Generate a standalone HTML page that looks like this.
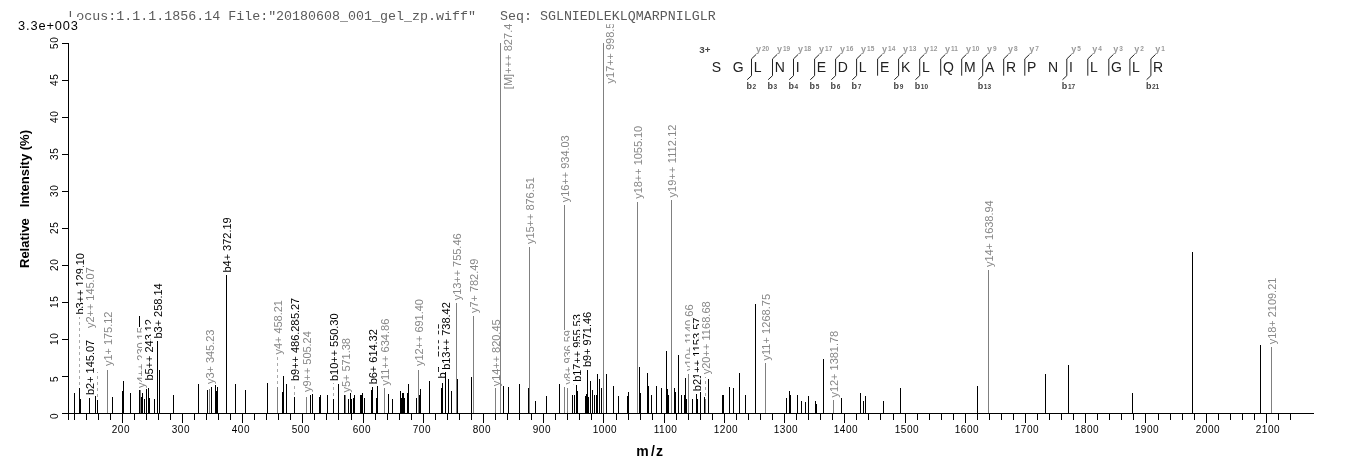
<!DOCTYPE html>
<html lang="en">
<head>
<meta charset="utf-8">
<title>Spectrum SGLNIEDLEKLQMARPNILGLR</title>
<style>
html,body{margin:0;padding:0;background:#fff;}
body{width:1362px;height:473px;overflow:hidden;}
svg{display:block;}
svg rect{shape-rendering:crispEdges;}
</style>
</head>
<body>
<svg width="1362" height="473" viewBox="0 0 1362 473">
<rect x="0" y="0" width="1362" height="473" fill="#fff"/>
<g font-family='"Liberation Sans", Arial, Helvetica, sans-serif' font-size="11px">
<clipPath id="c17"><rect x="600" y="24.3" width="30" height="80"/></clipPath>
<rect x="74" y="392.5" width="1" height="20.5" fill="#000"/>
<rect x="79" y="387.6" width="1" height="25.4" fill="#000"/>
<rect x="79" y="382" width="1" height="3" fill="#aaaaaa"/>
<rect x="79" y="376" width="1" height="3" fill="#aaaaaa"/>
<rect x="79" y="370" width="1" height="3" fill="#aaaaaa"/>
<rect x="79" y="364" width="1" height="3" fill="#aaaaaa"/>
<rect x="79" y="358" width="1" height="3" fill="#aaaaaa"/>
<rect x="79" y="352" width="1" height="3" fill="#aaaaaa"/>
<rect x="79" y="346" width="1" height="3" fill="#aaaaaa"/>
<rect x="79" y="340" width="1" height="3" fill="#aaaaaa"/>
<rect x="79" y="334" width="1" height="3" fill="#aaaaaa"/>
<rect x="79" y="328" width="1" height="3" fill="#aaaaaa"/>
<rect x="79" y="322" width="1" height="3" fill="#aaaaaa"/>
<rect x="79" y="317" width="1" height="2" fill="#aaaaaa"/>
<rect x="73" y="253.0" width="13.5" height="63.5" fill="#fff"/>
<text transform="translate(84 314.5) rotate(-90)" fill="#000" textLength="61.5" lengthAdjust="spacing">b3++ 129.10</text>
<rect x="80" y="399" width="1" height="14" fill="#000"/>
<rect x="89" y="398" width="1" height="15" fill="#000"/>
<rect x="83" y="339.9" width="13.5" height="57.1" fill="#fff"/>
<text transform="translate(94 395) rotate(-90)" fill="#000" textLength="55.15" lengthAdjust="spacing">b2+ 145.07</text>
<rect x="83" y="267.2" width="13.5" height="62.8" fill="#fff"/>
<text transform="translate(94 328) rotate(-90)" fill="#878787" textLength="60.8" lengthAdjust="spacing">y2++ 145.07</text>
<rect x="95" y="396" width="1" height="17" fill="#000"/>
<rect x="97" y="400" width="1" height="13" fill="#000"/>
<rect x="97" y="394" width="1" height="3" fill="#aaaaaa"/>
<rect x="97" y="388" width="1" height="3" fill="#aaaaaa"/>
<rect x="97" y="382" width="1" height="3" fill="#aaaaaa"/>
<rect x="97" y="376" width="1" height="3" fill="#aaaaaa"/>
<rect x="97" y="372" width="1" height="1" fill="#aaaaaa"/>
<rect x="107" y="370" width="1" height="43" fill="#808080"/>
<rect x="101" y="311.6" width="13.5" height="56.5" fill="#fff"/>
<text transform="translate(112 366) rotate(-90)" fill="#878787" textLength="54.45" lengthAdjust="spacing">y1+ 175.12</text>
<rect x="112" y="397" width="1" height="16" fill="#000"/>
<rect x="122" y="391" width="1" height="22" fill="#000"/>
<rect x="123" y="381" width="1" height="32" fill="#000"/>
<rect x="130" y="393" width="1" height="20" fill="#000"/>
<rect x="139" y="316" width="1" height="97" fill="#000"/>
<rect x="140" y="390" width="1" height="23" fill="#808080"/>
<rect x="134" y="327.2" width="13.5" height="62.8" fill="#fff"/>
<text transform="translate(145 388) rotate(-90)" fill="#878787" textLength="60.8" lengthAdjust="spacing">y4++ 230.15</text>
<rect x="141" y="397.4" width="1" height="15.6" fill="#000"/>
<rect x="142" y="393" width="1" height="20" fill="#000"/>
<rect x="144" y="399" width="1" height="14" fill="#000"/>
<rect x="146" y="389" width="1" height="24" fill="#000"/>
<rect x="148" y="387.6" width="1" height="25.4" fill="#000"/>
<rect x="142" y="319.0" width="13.5" height="63.5" fill="#fff"/>
<text transform="translate(153 380.5) rotate(-90)" fill="#000" textLength="61.5" lengthAdjust="spacing">b5++ 243.12</text>
<rect x="149" y="398" width="1" height="15" fill="#000"/>
<rect x="154" y="399" width="1" height="14" fill="#000"/>
<rect x="157" y="341" width="1" height="72" fill="#000"/>
<rect x="151" y="283.4" width="13.5" height="57.1" fill="#fff"/>
<text transform="translate(162 338.5) rotate(-90)" fill="#000" textLength="55.15" lengthAdjust="spacing">b3+ 258.14</text>
<rect x="159" y="370" width="1" height="43" fill="#000"/>
<rect x="173" y="395" width="1" height="18" fill="#000"/>
<rect x="198" y="384" width="1" height="29" fill="#000"/>
<rect x="207" y="390" width="1" height="23" fill="#000"/>
<rect x="209" y="389" width="1" height="24" fill="#808080"/>
<rect x="203" y="329.6" width="13.5" height="56.5" fill="#fff"/>
<text transform="translate(214 384) rotate(-90)" fill="#878787" textLength="54.45" lengthAdjust="spacing">y3+ 345.23</text>
<rect x="211" y="387" width="1" height="26" fill="#000"/>
<rect x="215" y="385" width="1" height="28" fill="#000"/>
<rect x="216" y="391" width="1" height="22" fill="#000"/>
<rect x="217" y="387" width="1" height="26" fill="#000"/>
<rect x="226" y="275" width="1" height="138" fill="#000"/>
<rect x="220" y="217.3" width="13.5" height="57.1" fill="#fff"/>
<text transform="translate(231 272.5) rotate(-90)" fill="#000" textLength="55.15" lengthAdjust="spacing">b4+ 372.19</text>
<rect x="235" y="384" width="1" height="29" fill="#000"/>
<rect x="245" y="390" width="1" height="23" fill="#000"/>
<rect x="267" y="383" width="1" height="30" fill="#000"/>
<rect x="277" y="387" width="1" height="26" fill="#808080"/>
<rect x="277" y="381" width="1" height="3" fill="#aaaaaa"/>
<rect x="277" y="375" width="1" height="3" fill="#aaaaaa"/>
<rect x="277" y="369" width="1" height="3" fill="#aaaaaa"/>
<rect x="277" y="363" width="1" height="3" fill="#aaaaaa"/>
<rect x="277" y="357" width="1" height="3" fill="#aaaaaa"/>
<rect x="271" y="300.1" width="13.5" height="56.5" fill="#fff"/>
<text transform="translate(282 354.5) rotate(-90)" fill="#878787" textLength="54.45" lengthAdjust="spacing">y4+ 458.21</text>
<rect x="282" y="392" width="1" height="21" fill="#000"/>
<rect x="283" y="376" width="1" height="37" fill="#000"/>
<rect x="286" y="384" width="1" height="29" fill="#000"/>
<rect x="294" y="397.4" width="1" height="15.6" fill="#000"/>
<rect x="288" y="297.8" width="13.5" height="57.1" fill="#fff"/>
<text transform="translate(299 352.9) rotate(-90)" fill="#000" textLength="55.15" lengthAdjust="spacing">b5+ 485.27</text>
<rect x="294" y="392" width="1" height="3" fill="#aaaaaa"/>
<rect x="294" y="386" width="1" height="3" fill="#aaaaaa"/>
<rect x="288" y="319.5" width="13.5" height="63.5" fill="#fff"/>
<text transform="translate(299 381) rotate(-90)" fill="#000" textLength="61.5" lengthAdjust="spacing">b9++ 486.28</text>
<rect x="306" y="397.4" width="1" height="15.6" fill="#808080"/>
<rect x="300" y="331.2" width="13.5" height="62.8" fill="#fff"/>
<text transform="translate(311 392) rotate(-90)" fill="#878787" textLength="60.8" lengthAdjust="spacing">y9++ 505.24</text>
<rect x="310" y="395" width="1" height="18" fill="#000"/>
<rect x="312" y="394" width="1" height="19" fill="#000"/>
<rect x="319" y="397" width="1" height="16" fill="#000"/>
<rect x="320" y="395" width="1" height="18" fill="#000"/>
<rect x="327" y="395" width="1" height="18" fill="#000"/>
<rect x="333" y="399" width="1" height="14" fill="#000"/>
<rect x="333" y="393" width="1" height="3" fill="#aaaaaa"/>
<rect x="333" y="387" width="1" height="3" fill="#aaaaaa"/>
<rect x="333" y="383" width="1" height="1" fill="#aaaaaa"/>
<rect x="327" y="313.4" width="13.5" height="69.6" fill="#fff"/>
<text transform="translate(338 381) rotate(-90)" fill="#000" textLength="67.6" lengthAdjust="spacing">b10++ 550.30</text>
<rect x="338" y="384" width="1" height="29" fill="#000"/>
<rect x="344" y="393" width="1" height="20" fill="#000"/>
<rect x="345" y="395" width="1" height="18" fill="#808080"/>
<rect x="339" y="338.1" width="13.5" height="56.5" fill="#fff"/>
<text transform="translate(350 392.5) rotate(-90)" fill="#878787" textLength="54.45" lengthAdjust="spacing">y5+ 571.38</text>
<rect x="348" y="399" width="1" height="14" fill="#000"/>
<rect x="350" y="393" width="1" height="20" fill="#000"/>
<rect x="351" y="399" width="1" height="14" fill="#000"/>
<rect x="353" y="398" width="1" height="15" fill="#000"/>
<rect x="354" y="395" width="1" height="18" fill="#000"/>
<rect x="360" y="395" width="1" height="18" fill="#000"/>
<rect x="361" y="395" width="1" height="18" fill="#000"/>
<rect x="362" y="393" width="1" height="20" fill="#000"/>
<rect x="364" y="398" width="1" height="15" fill="#000"/>
<rect x="371" y="390" width="1" height="23" fill="#000"/>
<rect x="372" y="387" width="1" height="26" fill="#000"/>
<rect x="366" y="329.2" width="13.5" height="57.1" fill="#fff"/>
<text transform="translate(377 384.3) rotate(-90)" fill="#000" textLength="55.15" lengthAdjust="spacing">b6+ 614.32</text>
<rect x="376" y="398" width="1" height="15" fill="#000"/>
<rect x="377" y="386" width="1" height="27" fill="#000"/>
<rect x="384" y="388" width="1" height="25" fill="#808080"/>
<rect x="378" y="318.6" width="13.5" height="68.9" fill="#fff"/>
<text transform="translate(389 385.5) rotate(-90)" fill="#878787" textLength="66.9" lengthAdjust="spacing">y11++ 634.86</text>
<rect x="388" y="394" width="1" height="19" fill="#000"/>
<rect x="392" y="399" width="1" height="14" fill="#000"/>
<rect x="400" y="391" width="1" height="22" fill="#000"/>
<rect x="401" y="398" width="1" height="15" fill="#000"/>
<rect x="402" y="393" width="1" height="20" fill="#000"/>
<rect x="403" y="393" width="1" height="20" fill="#000"/>
<rect x="404" y="398" width="1" height="15" fill="#000"/>
<rect x="407" y="393" width="1" height="20" fill="#000"/>
<rect x="408" y="384" width="1" height="29" fill="#000"/>
<rect x="416" y="398" width="1" height="15" fill="#000"/>
<rect x="418" y="369.5" width="1" height="43.5" fill="#808080"/>
<rect x="412" y="299.1" width="13.5" height="68.9" fill="#fff"/>
<text transform="translate(423 366) rotate(-90)" fill="#878787" textLength="66.9" lengthAdjust="spacing">y12++ 691.40</text>
<rect x="419" y="395" width="1" height="18" fill="#000"/>
<rect x="420" y="389" width="1" height="24" fill="#000"/>
<rect x="429" y="381" width="1" height="32" fill="#000"/>
<rect x="441" y="388" width="1" height="25" fill="#000"/>
<rect x="435" y="323.4" width="13.5" height="57.1" fill="#fff"/>
<text transform="translate(446 378.5) rotate(-90)" fill="#000" textLength="55.15" lengthAdjust="spacing">b7+ 729.35</text>
<rect x="442" y="383" width="1" height="30" fill="#000"/>
<rect x="445" y="370.6" width="1" height="42.4" fill="#000"/>
<rect x="439" y="302.2" width="13.5" height="69.6" fill="#fff"/>
<text transform="translate(450 369.8) rotate(-90)" fill="#000" textLength="67.6" lengthAdjust="spacing">b13++ 738.42</text>
<rect x="448" y="379" width="1" height="34" fill="#000"/>
<rect x="451" y="391" width="1" height="22" fill="#000"/>
<rect x="456" y="303" width="1" height="110" fill="#808080"/>
<rect x="450" y="233.4" width="13.5" height="68.9" fill="#fff"/>
<text transform="translate(461 300.3) rotate(-90)" fill="#878787" textLength="66.9" lengthAdjust="spacing">y13++ 755.46</text>
<rect x="457" y="379" width="1" height="34" fill="#000"/>
<rect x="471" y="377" width="1" height="36" fill="#000"/>
<rect x="473" y="316" width="1" height="97" fill="#808080"/>
<rect x="467" y="258.6" width="13.5" height="56.5" fill="#fff"/>
<text transform="translate(478 313) rotate(-90)" fill="#878787" textLength="54.45" lengthAdjust="spacing">y7+ 782.49</text>
<rect x="495" y="388" width="1" height="25" fill="#808080"/>
<rect x="489" y="319.4" width="13.5" height="68.9" fill="#fff"/>
<text transform="translate(500 386.3) rotate(-90)" fill="#878787" textLength="66.9" lengthAdjust="spacing">y14++ 820.45</text>
<rect x="500" y="43" width="1" height="370" fill="#808080"/>
<text transform="translate(511.8 89.2) rotate(-90)" fill="#878787" textLength="65.55" lengthAdjust="spacing">[M]+++ 827.4</text>
<rect x="503" y="386" width="1" height="27" fill="#000"/>
<rect x="508" y="387" width="1" height="26" fill="#000"/>
<rect x="519" y="384" width="1" height="29" fill="#000"/>
<rect x="528" y="388" width="1" height="25" fill="#000"/>
<rect x="529" y="247" width="1" height="166" fill="#808080"/>
<rect x="523" y="177.1" width="13.5" height="68.9" fill="#fff"/>
<text transform="translate(534 244) rotate(-90)" fill="#878787" textLength="66.9" lengthAdjust="spacing">y15++ 876.51</text>
<rect x="535" y="401" width="1" height="12" fill="#000"/>
<rect x="546" y="396" width="1" height="17" fill="#000"/>
<rect x="559" y="384" width="1" height="29" fill="#000"/>
<rect x="564" y="205" width="1" height="208" fill="#808080"/>
<rect x="558" y="135.3" width="13.5" height="68.9" fill="#fff"/>
<text transform="translate(569 202.2) rotate(-90)" fill="#878787" textLength="66.9" lengthAdjust="spacing">y16++ 934.03</text>
<rect x="567" y="388" width="1" height="25" fill="#808080"/>
<rect x="561" y="330.1" width="13.5" height="56.5" fill="#fff"/>
<text transform="translate(572 384.5) rotate(-90)" fill="#878787" textLength="54.45" lengthAdjust="spacing">y8+ 936.59</text>
<rect x="572" y="395" width="1" height="18" fill="#000"/>
<rect x="574" y="395" width="1" height="18" fill="#000"/>
<rect x="576" y="385" width="1" height="28" fill="#000"/>
<rect x="570" y="314.2" width="13.5" height="69.6" fill="#fff"/>
<text transform="translate(581 381.8) rotate(-90)" fill="#000" textLength="67.6" lengthAdjust="spacing">b17++ 955.53</text>
<rect x="577" y="391" width="1" height="22" fill="#000"/>
<rect x="585" y="396" width="1" height="17" fill="#000"/>
<rect x="586" y="394" width="1" height="19" fill="#000"/>
<rect x="587" y="370" width="1" height="43" fill="#000"/>
<rect x="580.4" y="311.9" width="13.5" height="57.1" fill="#fff"/>
<text transform="translate(591.4 367) rotate(-90)" fill="#000" textLength="55.15" lengthAdjust="spacing">b9+ 971.46</text>
<rect x="588" y="397" width="1" height="16" fill="#000"/>
<rect x="590" y="381" width="1" height="32" fill="#000"/>
<rect x="592" y="390" width="1" height="23" fill="#000"/>
<rect x="594" y="395" width="1" height="18" fill="#000"/>
<rect x="596" y="395" width="1" height="18" fill="#000"/>
<rect x="597" y="374" width="1" height="39" fill="#000"/>
<rect x="599" y="379" width="1" height="34" fill="#000"/>
<rect x="601" y="388" width="1" height="25" fill="#000"/>
<rect x="603" y="43" width="1" height="370" fill="#808080"/>
<g clip-path="url(#c17)">
<text transform="translate(614.1 83.4) rotate(-90)" fill="#878787" textLength="60.8" lengthAdjust="spacing">y17++ 998.5</text>
</g>
<rect x="606" y="374" width="1" height="39" fill="#000"/>
<rect x="613" y="386" width="1" height="27" fill="#000"/>
<rect x="618" y="396" width="1" height="17" fill="#000"/>
<rect x="627" y="396" width="1" height="17" fill="#000"/>
<rect x="628" y="392" width="1" height="21" fill="#000"/>
<rect x="637" y="202" width="1" height="211" fill="#808080"/>
<rect x="631" y="125.8" width="13.5" height="75.0" fill="#fff"/>
<text transform="translate(642 198.8) rotate(-90)" fill="#878787" textLength="73.0" lengthAdjust="spacing">y18++ 1055.10</text>
<rect x="639" y="367" width="1" height="46" fill="#000"/>
<rect x="640" y="393" width="1" height="20" fill="#000"/>
<rect x="647" y="373" width="1" height="40" fill="#000"/>
<rect x="648" y="386" width="1" height="27" fill="#000"/>
<rect x="651" y="395" width="1" height="18" fill="#000"/>
<rect x="656" y="386" width="1" height="27" fill="#000"/>
<rect x="661" y="388" width="1" height="25" fill="#000"/>
<rect x="666" y="351" width="1" height="62" fill="#000"/>
<rect x="667" y="389" width="1" height="24" fill="#000"/>
<rect x="668" y="395" width="1" height="18" fill="#000"/>
<rect x="671" y="200" width="1" height="213" fill="#808080"/>
<rect x="665" y="124.5" width="13.5" height="75.0" fill="#fff"/>
<text transform="translate(676 197.5) rotate(-90)" fill="#878787" textLength="73.0" lengthAdjust="spacing">y19++ 1112.12</text>
<rect x="674" y="388" width="1" height="25" fill="#000"/>
<rect x="675" y="392" width="1" height="21" fill="#000"/>
<rect x="678" y="355" width="1" height="58" fill="#000"/>
<rect x="681" y="395" width="1" height="18" fill="#000"/>
<rect x="684" y="395" width="1" height="18" fill="#000"/>
<rect x="685" y="378" width="1" height="35" fill="#000"/>
<rect x="686" y="399" width="1" height="14" fill="#000"/>
<rect x="688" y="374" width="1" height="39" fill="#808080"/>
<rect x="682" y="304.4" width="13.5" height="68.7" fill="#fff"/>
<text transform="translate(693 371) rotate(-90)" fill="#878787" textLength="66.65" lengthAdjust="spacing">y10+ 1140.66</text>
<rect x="692" y="399" width="1" height="14" fill="#000"/>
<rect x="696" y="394" width="1" height="19" fill="#000"/>
<rect x="690" y="317.5" width="13.5" height="75.7" fill="#fff"/>
<text transform="translate(701 391.2) rotate(-90)" fill="#000" textLength="73.7" lengthAdjust="spacing">b21++ 1153.57</text>
<rect x="697" y="399" width="1" height="14" fill="#000"/>
<rect x="700" y="392" width="1" height="21" fill="#000"/>
<rect x="704" y="397" width="1" height="16" fill="#000"/>
<rect x="705" y="399" width="1" height="14" fill="#808080"/>
<rect x="705" y="393" width="1" height="3" fill="#aaaaaa"/>
<rect x="705" y="387" width="1" height="3" fill="#aaaaaa"/>
<rect x="705" y="381" width="1" height="3" fill="#aaaaaa"/>
<rect x="705" y="377" width="1" height="1" fill="#aaaaaa"/>
<rect x="699" y="301.3" width="13.5" height="75.0" fill="#fff"/>
<text transform="translate(710 374.3) rotate(-90)" fill="#878787" textLength="73.0" lengthAdjust="spacing">y20++ 1168.68</text>
<rect x="708" y="379" width="1" height="34" fill="#000"/>
<rect x="722" y="395" width="1" height="18" fill="#000"/>
<rect x="723" y="395" width="1" height="18" fill="#000"/>
<rect x="729" y="387" width="1" height="26" fill="#000"/>
<rect x="733" y="388" width="1" height="25" fill="#000"/>
<rect x="739" y="373" width="1" height="40" fill="#000"/>
<rect x="745" y="395" width="1" height="18" fill="#000"/>
<rect x="755" y="304" width="1" height="109" fill="#000"/>
<rect x="765" y="363" width="1" height="50" fill="#808080"/>
<rect x="759" y="293.9" width="13.5" height="68.7" fill="#fff"/>
<text transform="translate(770 360.5) rotate(-90)" fill="#878787" textLength="66.65" lengthAdjust="spacing">y11+ 1268.75</text>
<rect x="786" y="398" width="1" height="15" fill="#000"/>
<rect x="789" y="391" width="1" height="22" fill="#000"/>
<rect x="790" y="395" width="1" height="18" fill="#000"/>
<rect x="797" y="395" width="1" height="18" fill="#000"/>
<rect x="801" y="401" width="1" height="12" fill="#000"/>
<rect x="805" y="402" width="1" height="11" fill="#000"/>
<rect x="808" y="396" width="1" height="17" fill="#000"/>
<rect x="815" y="401" width="1" height="12" fill="#000"/>
<rect x="816" y="404" width="1" height="9" fill="#000"/>
<rect x="823" y="359" width="1" height="54" fill="#000"/>
<rect x="833" y="400" width="1" height="13" fill="#808080"/>
<rect x="827" y="330.9" width="13.5" height="68.7" fill="#fff"/>
<text transform="translate(838 397.5) rotate(-90)" fill="#878787" textLength="66.65" lengthAdjust="spacing">y12+ 1381.78</text>
<rect x="841" y="398" width="1" height="15" fill="#000"/>
<rect x="860" y="393" width="1" height="20" fill="#000"/>
<rect x="863" y="401" width="1" height="12" fill="#000"/>
<rect x="865" y="396" width="1" height="17" fill="#000"/>
<rect x="883" y="401" width="1" height="12" fill="#000"/>
<rect x="900" y="388" width="1" height="25" fill="#000"/>
<rect x="977" y="386" width="1" height="27" fill="#000"/>
<rect x="988" y="270" width="1" height="143" fill="#808080"/>
<rect x="982" y="200.3" width="13.5" height="68.7" fill="#fff"/>
<text transform="translate(993 267) rotate(-90)" fill="#878787" textLength="66.65" lengthAdjust="spacing">y14+ 1638.94</text>
<rect x="1045" y="374" width="1" height="39" fill="#000"/>
<rect x="1068" y="365" width="1" height="48" fill="#000"/>
<rect x="1132" y="393" width="1" height="20" fill="#000"/>
<rect x="1192" y="252" width="1" height="161" fill="#000"/>
<rect x="1260" y="345" width="1" height="68" fill="#000"/>
<rect x="1271" y="347" width="1" height="66" fill="#808080"/>
<rect x="1265" y="277.6" width="13.5" height="68.7" fill="#fff"/>
<text transform="translate(1276 344.3) rotate(-90)" fill="#878787" textLength="66.65" lengthAdjust="spacing">y18+ 2109.21</text>
</g>
<rect x="68" y="43" width="1" height="377" fill="#000"/>
<rect x="62" y="413" width="7" height="1" fill="#000"/>
<rect x="62" y="376" width="7" height="1" fill="#000"/>
<rect x="62" y="339" width="7" height="1" fill="#000"/>
<rect x="62" y="302" width="7" height="1" fill="#000"/>
<rect x="62" y="265" width="7" height="1" fill="#000"/>
<rect x="62" y="228" width="7" height="1" fill="#000"/>
<rect x="62" y="191" width="7" height="1" fill="#000"/>
<rect x="62" y="154" width="7" height="1" fill="#000"/>
<rect x="62" y="117" width="7" height="1" fill="#000"/>
<rect x="62" y="80" width="7" height="1" fill="#000"/>
<rect x="62" y="43" width="7" height="1" fill="#000"/>
<rect x="62" y="413" width="1252" height="1" fill="#000"/>
<rect x="74" y="413" width="1" height="7" fill="#000"/>
<rect x="86" y="413" width="1" height="7" fill="#000"/>
<rect x="98" y="413" width="1" height="7" fill="#000"/>
<rect x="110" y="413" width="1" height="7" fill="#000"/>
<rect x="122" y="413" width="1" height="10" fill="#000"/>
<rect x="134" y="413" width="1" height="7" fill="#000"/>
<rect x="146" y="413" width="1" height="7" fill="#000"/>
<rect x="158" y="413" width="1" height="7" fill="#000"/>
<rect x="170" y="413" width="1" height="7" fill="#000"/>
<rect x="182" y="413" width="1" height="10" fill="#000"/>
<rect x="194" y="413" width="1" height="7" fill="#000"/>
<rect x="206" y="413" width="1" height="7" fill="#000"/>
<rect x="218" y="413" width="1" height="7" fill="#000"/>
<rect x="230" y="413" width="1" height="7" fill="#000"/>
<rect x="242" y="413" width="1" height="10" fill="#000"/>
<rect x="254" y="413" width="1" height="7" fill="#000"/>
<rect x="266" y="413" width="1" height="7" fill="#000"/>
<rect x="278" y="413" width="1" height="7" fill="#000"/>
<rect x="290" y="413" width="1" height="7" fill="#000"/>
<rect x="302" y="413" width="1" height="10" fill="#000"/>
<rect x="314" y="413" width="1" height="7" fill="#000"/>
<rect x="326" y="413" width="1" height="7" fill="#000"/>
<rect x="338" y="413" width="1" height="7" fill="#000"/>
<rect x="351" y="413" width="1" height="7" fill="#000"/>
<rect x="363" y="413" width="1" height="10" fill="#000"/>
<rect x="375" y="413" width="1" height="7" fill="#000"/>
<rect x="387" y="413" width="1" height="7" fill="#000"/>
<rect x="399" y="413" width="1" height="7" fill="#000"/>
<rect x="411" y="413" width="1" height="7" fill="#000"/>
<rect x="423" y="413" width="1" height="10" fill="#000"/>
<rect x="435" y="413" width="1" height="7" fill="#000"/>
<rect x="447" y="413" width="1" height="7" fill="#000"/>
<rect x="459" y="413" width="1" height="7" fill="#000"/>
<rect x="471" y="413" width="1" height="7" fill="#000"/>
<rect x="483" y="413" width="1" height="10" fill="#000"/>
<rect x="495" y="413" width="1" height="7" fill="#000"/>
<rect x="507" y="413" width="1" height="7" fill="#000"/>
<rect x="519" y="413" width="1" height="7" fill="#000"/>
<rect x="531" y="413" width="1" height="7" fill="#000"/>
<rect x="543" y="413" width="1" height="10" fill="#000"/>
<rect x="555" y="413" width="1" height="7" fill="#000"/>
<rect x="567" y="413" width="1" height="7" fill="#000"/>
<rect x="579" y="413" width="1" height="7" fill="#000"/>
<rect x="591" y="413" width="1" height="7" fill="#000"/>
<rect x="603" y="413" width="1" height="10" fill="#000"/>
<rect x="616" y="413" width="1" height="7" fill="#000"/>
<rect x="628" y="413" width="1" height="7" fill="#000"/>
<rect x="640" y="413" width="1" height="7" fill="#000"/>
<rect x="652" y="413" width="1" height="7" fill="#000"/>
<rect x="664" y="413" width="1" height="10" fill="#000"/>
<rect x="676" y="413" width="1" height="7" fill="#000"/>
<rect x="688" y="413" width="1" height="7" fill="#000"/>
<rect x="700" y="413" width="1" height="7" fill="#000"/>
<rect x="712" y="413" width="1" height="7" fill="#000"/>
<rect x="724" y="413" width="1" height="10" fill="#000"/>
<rect x="736" y="413" width="1" height="7" fill="#000"/>
<rect x="748" y="413" width="1" height="7" fill="#000"/>
<rect x="760" y="413" width="1" height="7" fill="#000"/>
<rect x="772" y="413" width="1" height="7" fill="#000"/>
<rect x="784" y="413" width="1" height="10" fill="#000"/>
<rect x="796" y="413" width="1" height="7" fill="#000"/>
<rect x="808" y="413" width="1" height="7" fill="#000"/>
<rect x="820" y="413" width="1" height="7" fill="#000"/>
<rect x="832" y="413" width="1" height="7" fill="#000"/>
<rect x="844" y="413" width="1" height="10" fill="#000"/>
<rect x="856" y="413" width="1" height="7" fill="#000"/>
<rect x="868" y="413" width="1" height="7" fill="#000"/>
<rect x="880" y="413" width="1" height="7" fill="#000"/>
<rect x="893" y="413" width="1" height="7" fill="#000"/>
<rect x="905" y="413" width="1" height="10" fill="#000"/>
<rect x="917" y="413" width="1" height="7" fill="#000"/>
<rect x="929" y="413" width="1" height="7" fill="#000"/>
<rect x="941" y="413" width="1" height="7" fill="#000"/>
<rect x="953" y="413" width="1" height="7" fill="#000"/>
<rect x="965" y="413" width="1" height="10" fill="#000"/>
<rect x="977" y="413" width="1" height="7" fill="#000"/>
<rect x="989" y="413" width="1" height="7" fill="#000"/>
<rect x="1001" y="413" width="1" height="7" fill="#000"/>
<rect x="1013" y="413" width="1" height="7" fill="#000"/>
<rect x="1025" y="413" width="1" height="10" fill="#000"/>
<rect x="1037" y="413" width="1" height="7" fill="#000"/>
<rect x="1049" y="413" width="1" height="7" fill="#000"/>
<rect x="1061" y="413" width="1" height="7" fill="#000"/>
<rect x="1073" y="413" width="1" height="7" fill="#000"/>
<rect x="1085" y="413" width="1" height="10" fill="#000"/>
<rect x="1097" y="413" width="1" height="7" fill="#000"/>
<rect x="1109" y="413" width="1" height="7" fill="#000"/>
<rect x="1121" y="413" width="1" height="7" fill="#000"/>
<rect x="1133" y="413" width="1" height="7" fill="#000"/>
<rect x="1145" y="413" width="1" height="10" fill="#000"/>
<rect x="1158" y="413" width="1" height="7" fill="#000"/>
<rect x="1170" y="413" width="1" height="7" fill="#000"/>
<rect x="1182" y="413" width="1" height="7" fill="#000"/>
<rect x="1194" y="413" width="1" height="7" fill="#000"/>
<rect x="1206" y="413" width="1" height="10" fill="#000"/>
<rect x="1218" y="413" width="1" height="7" fill="#000"/>
<rect x="1230" y="413" width="1" height="7" fill="#000"/>
<rect x="1242" y="413" width="1" height="7" fill="#000"/>
<rect x="1254" y="413" width="1" height="7" fill="#000"/>
<rect x="1266" y="413" width="1" height="10" fill="#000"/>
<rect x="1278" y="413" width="1" height="7" fill="#000"/>
<rect x="1290" y="413" width="1" height="7" fill="#000"/>
<g font-family='"Liberation Sans", Arial, Helvetica, sans-serif' font-size="10px" fill="#000">
<text x="111.7" y="432.9" letter-spacing="0.55">200</text>
<text x="171.7" y="432.9" letter-spacing="0.55">300</text>
<text x="231.7" y="432.9" letter-spacing="0.55">400</text>
<text x="291.7" y="432.9" letter-spacing="0.55">500</text>
<text x="352.7" y="432.9" letter-spacing="0.55">600</text>
<text x="412.7" y="432.9" letter-spacing="0.55">700</text>
<text x="472.7" y="432.9" letter-spacing="0.55">800</text>
<text x="532.7" y="432.9" letter-spacing="0.55">900</text>
<text x="592.7" y="432.9" letter-spacing="0.55">1000</text>
<text x="653.7" y="432.9" letter-spacing="0.55">1100</text>
<text x="713.7" y="432.9" letter-spacing="0.55">1200</text>
<text x="773.7" y="432.9" letter-spacing="0.55">1300</text>
<text x="833.7" y="432.9" letter-spacing="0.55">1400</text>
<text x="894.7" y="432.9" letter-spacing="0.55">1500</text>
<text x="954.7" y="432.9" letter-spacing="0.55">1600</text>
<text x="1014.7" y="432.9" letter-spacing="0.55">1700</text>
<text x="1074.7" y="432.9" letter-spacing="0.55">1800</text>
<text x="1134.7" y="432.9" letter-spacing="0.55">1900</text>
<text x="1195.7" y="432.9" letter-spacing="0.55">2000</text>
<text x="1255.7" y="432.9" letter-spacing="0.55">2100</text>
<text transform="translate(57.5 418.9) rotate(-90)" letter-spacing="0.5">0</text>
<text transform="translate(57.5 381.9) rotate(-90)" letter-spacing="0.5">5</text>
<text transform="translate(57.5 344.9) rotate(-90)" letter-spacing="0.5">10</text>
<text transform="translate(57.5 307.9) rotate(-90)" letter-spacing="0.5">15</text>
<text transform="translate(57.5 270.9) rotate(-90)" letter-spacing="0.5">20</text>
<text transform="translate(57.5 233.9) rotate(-90)" letter-spacing="0.5">25</text>
<text transform="translate(57.5 196.9) rotate(-90)" letter-spacing="0.5">30</text>
<text transform="translate(57.5 159.9) rotate(-90)" letter-spacing="0.5">35</text>
<text transform="translate(57.5 122.9) rotate(-90)" letter-spacing="0.5">40</text>
<text transform="translate(57.5 85.9) rotate(-90)" letter-spacing="0.5">45</text>
<text transform="translate(57.5 48.9) rotate(-90)" letter-spacing="0.5">50</text>
</g>
<g font-family='"Liberation Sans", Arial, Helvetica, sans-serif' font-weight="bold" font-size="14px" fill="#000">
<text y="455.6" text-anchor="middle"><tspan x="642.5">m</tspan><tspan x="652.9">/</tspan><tspan x="659.5">z</tspan></text>
<text transform="translate(29 268) rotate(-90) scale(0.963 1)" font-size="13.5px" xml:space="preserve">Relative   Intensity (%)</text>
</g>
<rect x="69" y="9" width="649" height="14.3" fill="#fff"/>
<text transform="translate(68.3 19.8) scale(1.111 1)" font-family='"Liberation Mono", "Courier New", Courier, monospace' font-size="12px" fill="#5a5a5a" xml:space="preserve">Locus:1.1.1.1856.14 File:&quot;20180608_001_gel_zp.wiff&quot;   Seq: SGLNIEDLEKLQMARPNILGLR</text>
<rect x="17" y="17.3" width="61.5" height="14.5" fill="#fff"/>
<text x="18.1" y="30.2" font-family='"Liberation Sans", Arial, Helvetica, sans-serif' font-size="12.8px" letter-spacing="0.88" fill="#000">3.3e+003</text>
<g font-family='"Liberation Sans", Arial, Helvetica, sans-serif'>
<text x="699.3" y="52.7" font-size="9.8px" font-weight="bold" fill="#484848">3+</text>
<text x="711.7" y="72" font-size="14px" fill="#222">S</text>
<text x="732.7" y="72" font-size="14px" fill="#222">G</text>
<text x="753.7" y="72" font-size="14px" fill="#222">L</text>
<text x="774.8" y="72" font-size="14px" fill="#222">N</text>
<text x="795.8" y="72" font-size="14px" fill="#222">I</text>
<text x="816.8" y="72" font-size="14px" fill="#222">E</text>
<text x="837.8" y="72" font-size="14px" fill="#222">D</text>
<text x="858.8" y="72" font-size="14px" fill="#222">L</text>
<text x="879.9" y="72" font-size="14px" fill="#222">E</text>
<text x="900.9" y="72" font-size="14px" fill="#222">K</text>
<text x="921.9" y="72" font-size="14px" fill="#222">L</text>
<text x="942.9" y="72" font-size="14px" fill="#222">Q</text>
<text x="963.9" y="72" font-size="14px" fill="#222">M</text>
<text x="985.0" y="72" font-size="14px" fill="#222">A</text>
<text x="1006.0" y="72" font-size="14px" fill="#222">R</text>
<text x="1027.0" y="72" font-size="14px" fill="#222">P</text>
<text x="1048.0" y="72" font-size="14px" fill="#222">N</text>
<text x="1069.0" y="72" font-size="14px" fill="#222">I</text>
<text x="1090.1" y="72" font-size="14px" fill="#222">L</text>
<text x="1111.1" y="72" font-size="14px" fill="#222">G</text>
<text x="1132.1" y="72" font-size="14px" fill="#222">L</text>
<text x="1153.1" y="72" font-size="14px" fill="#222">R</text>
<path d="M747.2 79.7L751.5 75.7V58.9L756.2 54.4" fill="none" stroke="#222" stroke-width="1"/>
<text x="755.9" y="52.2" font-weight="bold" fill="#999"><tspan font-size="9px">y</tspan><tspan font-size="6.5px" dx="1" dy="-0.9">20</tspan></text>
<text x="746.5" y="88.6" font-weight="bold" fill="#444"><tspan font-size="9px">b</tspan><tspan font-size="6.5px" dx="0.6">2</tspan></text>
<path d="M768.2 79.7L772.5 75.7V58.9L777.2 54.4" fill="none" stroke="#222" stroke-width="1"/>
<text x="776.9" y="52.2" font-weight="bold" fill="#999"><tspan font-size="9px">y</tspan><tspan font-size="6.5px" dx="1" dy="-0.9">19</tspan></text>
<text x="767.5" y="88.6" font-weight="bold" fill="#444"><tspan font-size="9px">b</tspan><tspan font-size="6.5px" dx="0.6">3</tspan></text>
<path d="M789.2 79.7L793.5 75.7V58.9L798.2 54.4" fill="none" stroke="#222" stroke-width="1"/>
<text x="797.9" y="52.2" font-weight="bold" fill="#999"><tspan font-size="9px">y</tspan><tspan font-size="6.5px" dx="1" dy="-0.9">18</tspan></text>
<text x="788.5" y="88.6" font-weight="bold" fill="#444"><tspan font-size="9px">b</tspan><tspan font-size="6.5px" dx="0.6">4</tspan></text>
<path d="M810.3 79.7L814.6 75.7V58.9L819.3 54.4" fill="none" stroke="#222" stroke-width="1"/>
<text x="819.0" y="52.2" font-weight="bold" fill="#999"><tspan font-size="9px">y</tspan><tspan font-size="6.5px" dx="1" dy="-0.9">17</tspan></text>
<text x="809.6" y="88.6" font-weight="bold" fill="#444"><tspan font-size="9px">b</tspan><tspan font-size="6.5px" dx="0.6">5</tspan></text>
<path d="M831.3 79.7L835.6 75.7V58.9L840.3 54.4" fill="none" stroke="#222" stroke-width="1"/>
<text x="840.0" y="52.2" font-weight="bold" fill="#999"><tspan font-size="9px">y</tspan><tspan font-size="6.5px" dx="1" dy="-0.9">16</tspan></text>
<text x="830.6" y="88.6" font-weight="bold" fill="#444"><tspan font-size="9px">b</tspan><tspan font-size="6.5px" dx="0.6">6</tspan></text>
<path d="M852.3 79.7L856.6 75.7V58.9L861.3 54.4" fill="none" stroke="#222" stroke-width="1"/>
<text x="861.0" y="52.2" font-weight="bold" fill="#999"><tspan font-size="9px">y</tspan><tspan font-size="6.5px" dx="1" dy="-0.9">15</tspan></text>
<text x="851.6" y="88.6" font-weight="bold" fill="#444"><tspan font-size="9px">b</tspan><tspan font-size="6.5px" dx="0.6">7</tspan></text>
<path d="M877.6 75.7V58.9L882.3 54.4" fill="none" stroke="#222" stroke-width="1"/>
<text x="882.0" y="52.2" font-weight="bold" fill="#999"><tspan font-size="9px">y</tspan><tspan font-size="6.5px" dx="1" dy="-0.9">14</tspan></text>
<path d="M894.3 79.7L898.6 75.7V58.9L903.3 54.4" fill="none" stroke="#222" stroke-width="1"/>
<text x="903.0" y="52.2" font-weight="bold" fill="#999"><tspan font-size="9px">y</tspan><tspan font-size="6.5px" dx="1" dy="-0.9">13</tspan></text>
<text x="893.6" y="88.6" font-weight="bold" fill="#444"><tspan font-size="9px">b</tspan><tspan font-size="6.5px" dx="0.6">9</tspan></text>
<path d="M915.4 79.7L919.7 75.7V58.9L924.4 54.4" fill="none" stroke="#222" stroke-width="1"/>
<text x="924.1" y="52.2" font-weight="bold" fill="#999"><tspan font-size="9px">y</tspan><tspan font-size="6.5px" dx="1" dy="-0.9">12</tspan></text>
<text x="914.7" y="88.6" font-weight="bold" fill="#444"><tspan font-size="9px">b</tspan><tspan font-size="6.5px" dx="0.6">10</tspan></text>
<path d="M940.7 75.7V58.9L945.4 54.4" fill="none" stroke="#222" stroke-width="1"/>
<text x="945.1" y="52.2" font-weight="bold" fill="#999"><tspan font-size="9px">y</tspan><tspan font-size="6.5px" dx="1" dy="-0.9">11</tspan></text>
<path d="M961.7 75.7V58.9L966.4 54.4" fill="none" stroke="#222" stroke-width="1"/>
<text x="966.1" y="52.2" font-weight="bold" fill="#999"><tspan font-size="9px">y</tspan><tspan font-size="6.5px" dx="1" dy="-0.9">10</tspan></text>
<path d="M978.4 79.7L982.7 75.7V58.9L987.4 54.4" fill="none" stroke="#222" stroke-width="1"/>
<text x="987.1" y="52.2" font-weight="bold" fill="#999"><tspan font-size="9px">y</tspan><tspan font-size="6.5px" dx="1" dy="-0.9">9</tspan></text>
<text x="977.7" y="88.6" font-weight="bold" fill="#444"><tspan font-size="9px">b</tspan><tspan font-size="6.5px" dx="0.6">13</tspan></text>
<path d="M1003.7 75.7V58.9L1008.4 54.4" fill="none" stroke="#222" stroke-width="1"/>
<text x="1008.1" y="52.2" font-weight="bold" fill="#999"><tspan font-size="9px">y</tspan><tspan font-size="6.5px" dx="1" dy="-0.9">8</tspan></text>
<path d="M1024.8 75.7V58.9L1029.5 54.4" fill="none" stroke="#222" stroke-width="1"/>
<text x="1029.2" y="52.2" font-weight="bold" fill="#999"><tspan font-size="9px">y</tspan><tspan font-size="6.5px" dx="1" dy="-0.9">7</tspan></text>
<path d="M1062.5 79.7L1066.8 75.7V58.9L1071.5 54.4" fill="none" stroke="#222" stroke-width="1"/>
<text x="1071.2" y="52.2" font-weight="bold" fill="#999"><tspan font-size="9px">y</tspan><tspan font-size="6.5px" dx="1" dy="-0.9">5</tspan></text>
<text x="1061.8" y="88.6" font-weight="bold" fill="#444"><tspan font-size="9px">b</tspan><tspan font-size="6.5px" dx="0.6">17</tspan></text>
<path d="M1087.8 75.7V58.9L1092.5 54.4" fill="none" stroke="#222" stroke-width="1"/>
<text x="1092.2" y="52.2" font-weight="bold" fill="#999"><tspan font-size="9px">y</tspan><tspan font-size="6.5px" dx="1" dy="-0.9">4</tspan></text>
<path d="M1108.8 75.7V58.9L1113.5 54.4" fill="none" stroke="#222" stroke-width="1"/>
<text x="1113.2" y="52.2" font-weight="bold" fill="#999"><tspan font-size="9px">y</tspan><tspan font-size="6.5px" dx="1" dy="-0.9">3</tspan></text>
<path d="M1129.9 75.7V58.9L1134.6 54.4" fill="none" stroke="#222" stroke-width="1"/>
<text x="1134.3" y="52.2" font-weight="bold" fill="#999"><tspan font-size="9px">y</tspan><tspan font-size="6.5px" dx="1" dy="-0.9">2</tspan></text>
<path d="M1146.6 79.7L1150.9 75.7V58.9L1155.6 54.4" fill="none" stroke="#222" stroke-width="1"/>
<text x="1155.3" y="52.2" font-weight="bold" fill="#999"><tspan font-size="9px">y</tspan><tspan font-size="6.5px" dx="1" dy="-0.9">1</tspan></text>
<text x="1145.9" y="88.6" font-weight="bold" fill="#444"><tspan font-size="9px">b</tspan><tspan font-size="6.5px" dx="0.6">21</tspan></text>
</g>
</svg>
</body>
</html>
